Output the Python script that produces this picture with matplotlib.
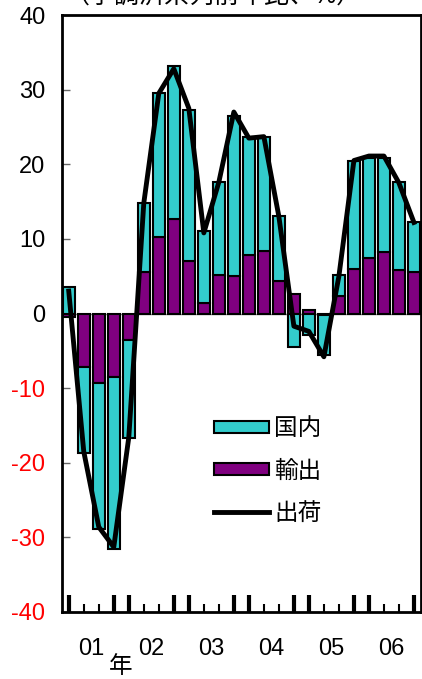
import numpy as np
import matplotlib
matplotlib.use('Agg')
import matplotlib.pyplot as plt
from matplotlib.patches import Patch
from matplotlib.lines import Line2D

plt.rcParams['font.family'] = ['Liberation Sans', 'Noto Sans CJK JP']

# quarterly data, 2001Q1 - 2006Q4 (y/y %)
years = ['01', '02', '03', '04', '05', '06']
export = [-0.5, -7.2, -9.3, -8.5, -3.5, 5.6, 10.3, 12.6, 7.0, 1.4, 5.2, 5.0,
          7.8, 8.4, 4.3, 2.6, 0.5, -0.2, 2.3, 5.9, 7.4, 8.2, 5.8, 5.6]
domestic = [3.5, -11.5, -19.6, -23.0, -13.2, 9.2, 19.3, 20.6, 20.3, 9.7, 12.4, 21.4,
            15.8, 15.2, 8.7, -4.5, -2.9, -5.3, 2.9, 14.6, 13.5, 12.7, 11.8, 6.6]
shipments = [3.0, -18.5, -28.6, -31.3, -16.6, 14.8, 29.5, 32.8, 27.5, 10.8, 17.6, 27.0,
             23.5, 23.7, 13.0, -1.7, -2.4, -5.8, 5.0, 20.5, 21.1, 21.1, 17.5, 12.2]

cyan = '#33CCCC'
purple = '#800080'

export = np.array(export)
domestic = np.array(domestic)
x = np.arange(len(export))

# stacking: domestic sits on top of export when same sign, else starts from 0
dom_bottom = np.where(np.sign(domestic) == np.sign(export), export, 0)

fig = plt.figure(figsize=(4.22, 6.79), dpi=100)
ax = fig.add_axes([62/422, 1-612/679, 359/422, 597/679])

ax.axhline(0, color='#888888', lw=1, zorder=1)
ax.bar(x, export, width=0.8, color=purple, edgecolor='black', linewidth=1.5, zorder=2)
ax.bar(x, domestic, bottom=dom_bottom, width=0.8, color=cyan, edgecolor='black',
       linewidth=1.5, zorder=2)
ax.plot(x, shipments, color='black', lw=3.5, solid_joinstyle='round', zorder=3)

ax.set_xlim(-0.45, 23.47)
ax.set_ylim(-40, 40)

# y axis
ax.set_yticks(np.arange(-40, 41, 10))
ax.yaxis.set_major_formatter(plt.FuncFormatter(lambda v, p: f'{int(v)}'))
ax.tick_params(axis='y', direction='in', length=6, width=1, color='#666666',
               labelsize=17, pad=12)
fig.canvas.draw()
for lab in ax.get_yticklabels():
    if lab.get_text().startswith('-'):
        lab.set_color('red')

# x axis: tall ticks at Q1 and Q4, short at Q2/Q3
tall = [i for i in x if i % 4 in (0, 3)]
short = [i for i in x if i % 4 in (1, 2)]
ax.set_xticks(tall)
ax.set_xticks(short, minor=True)
ax.tick_params(axis='x', which='major', direction='in', length=12, width=3,
               labelbottom=False)
ax.tick_params(axis='x', which='minor', direction='in', length=6, width=1.5)

sec = ax.secondary_xaxis('bottom')
sec.set_xticks(np.arange(len(years)) * 4 + 1.5)
sec.set_xticklabels(years)
sec.tick_params(length=0, labelsize=17, pad=19)
sec.spines['bottom'].set_visible(False)

for s in ax.spines.values():
    s.set_linewidth(2)

handles = [Patch(facecolor=cyan, edgecolor='black', linewidth=1.5),
           Patch(facecolor=purple, edgecolor='black', linewidth=1.5),
           Line2D([0], [0], color='black', lw=3.5)]
ax.legend(handles, ['国内', '輸出', '出荷'], loc='upper left',
          bbox_to_anchor=(0.365, 0.36), frameon=False, fontsize=17,
          handlelength=2.3, handleheight=0.45, handletextpad=0.25, labelspacing=0.85)

fig.text(121/422, 1-667/679, '年', fontsize=17, ha='center', va='center')
fig.text(213/422, 1+4/679, '（季調済系列前年比、%）', fontsize=18, ha='center', va='center')

fig.savefig('out.png', dpi=100)
